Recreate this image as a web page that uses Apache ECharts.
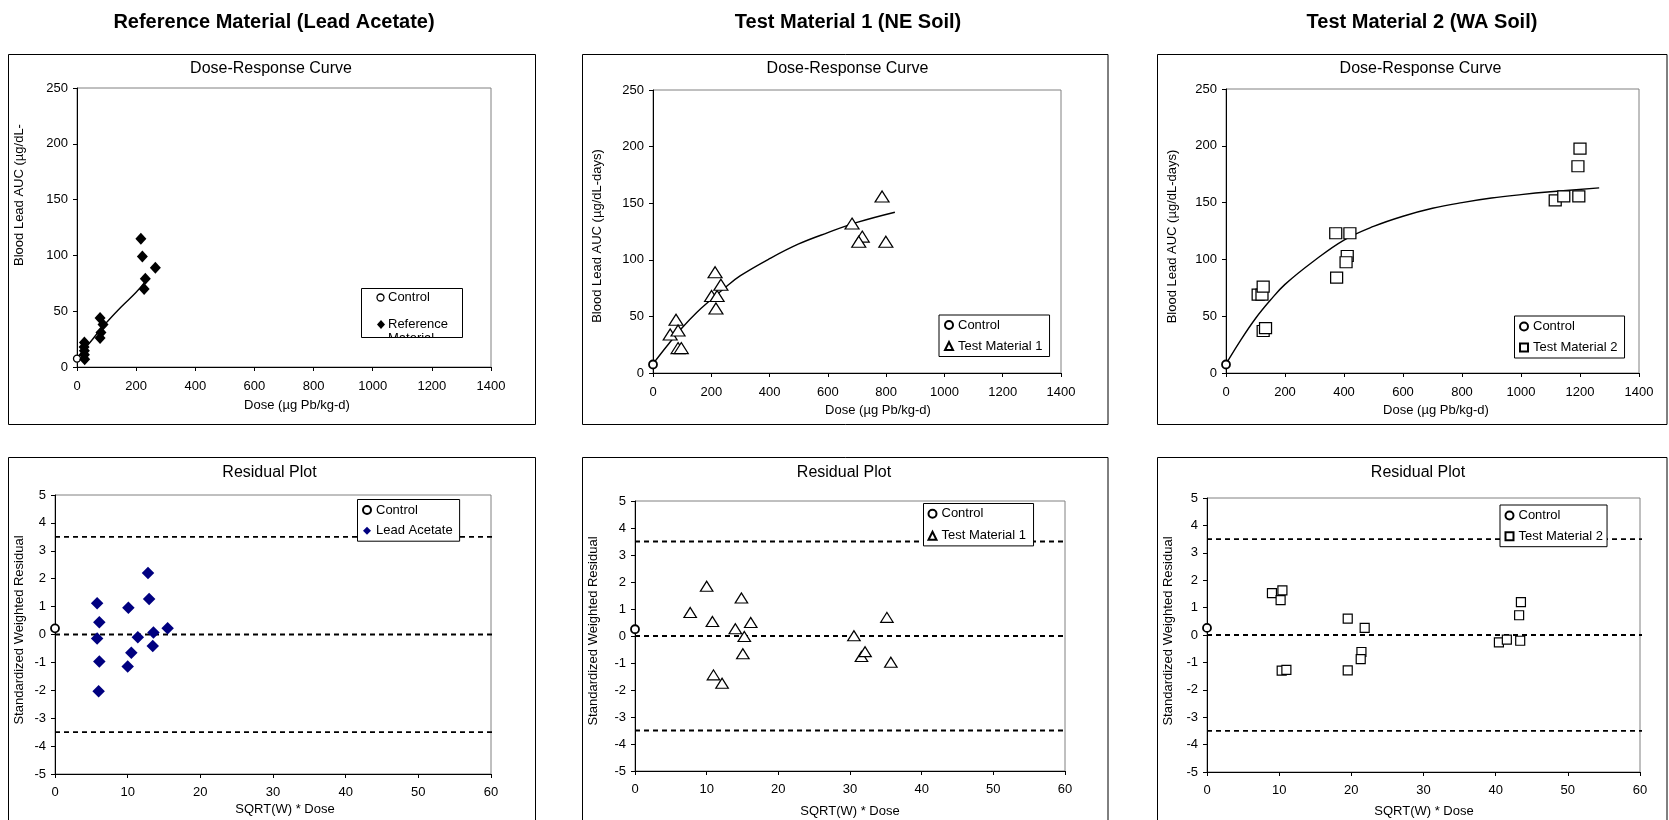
<!DOCTYPE html>
<html>
<head>
<meta charset="utf-8">
<title>Dose-Response and Residual Plots</title>
<script src="https://cdn.jsdelivr.net/npm/echarts@6.0.0/dist/echarts.min.js"></script>
<style>
html,body{margin:0;padding:0;background:#fff;}
#chart{width:1669px;height:820px;}
</style>
</head>
<body>
<div id="chart"></div>
<script>
const FONT = '"Liberation Sans", Arial, Helvetica, sans-serif';

// ---- axis ranges (tick labels come from these)
const doseAxis = {min: 0, max: 1400, interval: 200};
const aucAxis = {min: 0, max: 250, interval: 50};
const resXAxis = {min: 0, max: 60, interval: 10};
const resYAxis = {min: -5, max: 5, interval: 1};

// ---- text
const headers = ['Reference Material (Lead Acetate)', 'Test Material 1 (NE Soil)', 'Test Material 2 (WA Soil)'];
const topTitle = 'Dose-Response Curve';
const bottomTitle = 'Residual Plot';
const doseName = 'Dose (µg Pb/kg-d)';
const aucNameCut = 'Blood Lead AUC (µg/dL-';
const aucName = 'Blood Lead AUC (µg/dL-days)';
const resXName = 'SQRT(W) * Dose';
const resYName = 'Standardized Weighted Residual';

// ---- Panel 1: Reference material (lead acetate) dose-response
const controlDose = [0];
const refControlAuc = [7.5];
const refDose = [25, 24, 25, 25, 26, 78, 88, 81, 78, 216, 221, 231, 227, 265];
const refAuc  = [22, 18, 14.5, 11, 7, 44, 38, 31, 26, 115, 99, 79, 70, 89];
const refFitDose = [0, 25, 50, 80, 100, 150, 200, 232];
const refFitAuc  = [8, 16, 24, 34, 40, 54, 67, 77];

// ---- Panel 2: Test material 1 dose-response
const tm1ControlAuc = [7.5];
const tm1Dose = [59, 79, 86, 86, 97, 213, 201, 220, 216, 233, 683, 786, 718, 706, 799];
const tm1Auc  = [34, 47, 37.5, 22, 22, 89, 68, 68, 57, 78, 132, 156, 120.5, 116, 116];
const tm1FitDose = [0, 50, 100, 150, 200, 250, 300, 400, 500, 600, 700, 830];
const tm1FitAuc  = [8, 24.5, 40, 53.5, 65, 76, 86, 101, 114, 124, 133, 142];

// ---- Panel 3: Test material 2 dose-response
const tm2ControlAuc = [7.5];
const tm2Dose = [109, 122, 126, 126, 134, 372, 420, 411, 407, 375, 1116, 1145, 1196, 1193, 1200];
const tm2Auc  = [69, 69, 76, 37, 39.5, 123, 123, 103, 97.5, 84, 152, 155.5, 155.5, 182, 197.5];
const tm2FitDose = [0, 50, 100, 150, 200, 300, 400, 500, 600, 700, 800, 900, 1000, 1100, 1265];
const tm2FitAuc  = [8, 29, 48, 64, 78, 99, 117, 129, 138, 145, 150, 154, 157, 159.5, 163];

// ---- Residual plots
const controlResX = [0];
const refControlRes = [0.22];
const refResX = [5.8, 6.1, 5.8, 6.1, 6.0, 10.1, 10.0, 10.5, 11.4, 12.8, 12.95, 13.55, 13.45, 15.5];
const refResY = [1.12, 0.44, -0.14, -0.97, -2.03, 0.96, -1.15, -0.65, -0.10, 2.2, 1.27, 0.07, -0.41, 0.22];

const tm1ControlRes = [0.25];
const tm1ResX = [7.7, 10.0, 10.8, 10.95, 12.15, 14.0, 14.85, 15.25, 15.05, 16.15, 30.55, 31.6, 32.1, 35.15, 35.7];
const tm1ResY = [0.87, 1.84, 0.54, -1.44, -1.75, 0.27, 1.41, -0.02, -0.66, 0.50, 0.01, -0.76, -0.58, 0.69, -0.97];

const tm2ControlRes = [0.26];
const tm2ResX = [9.0, 10.45, 10.2, 10.35, 11.0, 19.5, 19.5, 21.85, 21.4, 21.3, 40.45, 41.55, 43.25, 43.5, 43.4];
const tm2ResY = [1.53, 1.63, 1.27, -1.30, -1.27, 0.60, -1.29, 0.26, -0.62, -0.88, -0.27, -0.17, 0.72, 1.20, -0.21];

// dashed reference lines on residual plots
const refLineX = [0, 60.7];
const refLineLevels = [3.5, 0, -3.5];

// ---------------------------------------------------------------
const pts = (xs, ys) => xs.map((x, i) => [x, ys[i]]);

const grids = [
  {left: 77,   top: 88,  width: 414, height: 279},
  {left: 653,  top: 90,  width: 408, height: 283},
  {left: 1226, top: 89,  width: 413, height: 284},
  {left: 55,   top: 495, width: 436, height: 279},
  {left: 635,  top: 501, width: 430, height: 270},
  {left: 1207, top: 498, width: 433, height: 274}
].map(g => Object.assign(g, {show: true, borderColor: '#808080', borderWidth: 1, backgroundColor: 'transparent'}));

function axis(i, rng, margin) {
  return {
    gridIndex: i, type: 'value', min: rng.min, max: rng.max, interval: rng.interval,
    axisLine: {show: true, onZero: false, lineStyle: {color: '#000', width: 1}},
    axisTick: {show: true, inside: false, length: 4, lineStyle: {color: '#000', width: 1}},
    axisLabel: {color: '#000', fontSize: 13, fontFamily: FONT, margin: margin, formatter: v => String(v)},
    splitLine: {show: false}
  };
}
const xAxes = [axis(0, doseAxis, 13), axis(1, doseAxis, 13), axis(2, doseAxis, 13),
               axis(3, resXAxis, 12), axis(4, resXAxis, 12), axis(5, resXAxis, 12)];
const yAxes = [axis(0, aucAxis, 9), axis(1, aucAxis, 9), axis(2, aucAxis, 9),
               axis(3, resYAxis, 9), axis(4, resYAxis, 9), axis(5, resYAxis, 9)];

const openStyle = (bw) => ({color: '#fff', borderColor: '#000', borderWidth: bw, opacity: 1});

function sc(name, i, data, symbol, size, itemStyle, z) {
  return {name, type: 'scatter', xAxisIndex: i, yAxisIndex: i, data, symbol, symbolSize: size,
          itemStyle: Object.assign({opacity: 1}, itemStyle), clip: false, z: z || 3, animation: false,
          emphasis: {disabled: true}};
}
function fit(i, data) {
  return {name: 'fit' + i, type: 'line', xAxisIndex: i, yAxisIndex: i, data, smooth: 0.4,
          symbol: 'none', lineStyle: {color: '#000', width: 1.4}, silent: true, z: 2, animation: false};
}
function refLines(i) {
  return refLineLevels.map((lv, k) => ({
    name: 'ref' + i + '_' + k, type: 'line', xAxisIndex: i, yAxisIndex: i,
    data: pts(refLineX, refLineX.map(() => lv)), symbol: 'none', clip: false, silent: true,
    lineStyle: {color: '#000', width: 1.8, type: [5, 4]}, z: 1, animation: false
  }));
}

const series = [
  fit(0, pts(refFitDose, refFitAuc)),
  sc('Control', 0, pts(controlDose, refControlAuc), 'circle', 7, openStyle(1.3)),
  sc('Reference Material', 0, pts(refDose, refAuc), 'diamond', [11, 12], {color: '#000'}),

  fit(1, pts(tm1FitDose, tm1FitAuc)),
  sc('Control', 1, pts(controlDose, tm1ControlAuc), 'circle', 8, openStyle(1.8)),
  sc('Test Material 1', 1, pts(tm1Dose, tm1Auc), 'triangle', [14, 11], openStyle(1.2)),

  fit(2, pts(tm2FitDose, tm2FitAuc)),
  sc('Control', 2, pts(controlDose, tm2ControlAuc), 'circle', 8, openStyle(1.8)),
  sc('Test Material 2', 2, pts(tm2Dose, tm2Auc), 'rect', [12, 11], openStyle(1.2)),

  ...refLines(3),
  sc('Control', 3, pts(controlResX, refControlRes), 'circle', 8, openStyle(1.8)),
  sc('Lead Acetate', 3, pts(refResX, refResY), 'diamond', [12.5, 12.5], {color: '#000080'}),

  ...refLines(4),
  sc('Control', 4, pts(controlResX, tm1ControlRes), 'circle', 8, openStyle(1.8)),
  sc('Test Material 1', 4, pts(tm1ResX, tm1ResY), 'triangle', [12.5, 10], openStyle(1.2)),

  ...refLines(5),
  sc('Control', 5, pts(controlResX, tm2ControlRes), 'circle', 8, openStyle(1.8)),
  sc('Test Material 2', 5, pts(tm2ResX, tm2ResY), 'rect', [9, 9], openStyle(1.2))
];

function leg(names, left, top, padding, gap) {
  return {
    data: names, left, top, orient: 'vertical', padding, itemGap: gap,
    itemWidth: 8, itemHeight: 8, borderColor: '#000', borderWidth: 1, borderRadius: 0,
    backgroundColor: '#fff', selectedMode: false,
    textStyle: {fontSize: 13, fontFamily: FONT, color: '#000', lineHeight: 13}
  };
}
const legends = [
  leg(['Control', 'Test Material 1'], 939, 315, [3.5, 7, 4, 5], 8),
  leg(['Control', 'Test Material 2'], 1514.5, 316, [4, 7, 4, 4.5], 8),
  leg(['Control', 'Lead Acetate'], 357.5, 499.5, [4, 7, 4, 4.5], 7.7),
  leg(['Control', 'Test Material 1'], 923.5, 503.5, [3.7, 7.5, 3.7, 4], 9),
  leg(['Control', 'Test Material 2'], 1500, 505, [4, 4, 4, 4.5], 7.7)
];

function txt(text, x, y, size, opts) {
  opts = opts || {};
  const al = opts.align || 'center';
  return {type: 'text', x, y, rotation: opts.rot || 0, z: opts.z || 50, silent: true,
    style: {text, font: (opts.bold ? 'bold ' : '') + size + 'px ' + FONT, fill: '#000',
            align: al, verticalAlign: 'middle', textAlign: al, textVerticalAlign: 'middle'}};
}
function box(x, y, w, h) {
  return {type: 'rect', shape: {x, y, width: w, height: h}, silent: true, z: 1,
          style: {fill: 'none', stroke: '#000', lineWidth: 1}};
}
const R = Math.PI / 2;
const graphics = [
  box(8.5, 54.5, 527, 370), box(582.5, 54.5, 525.5, 370), box(1157.5, 54.5, 509.5, 370),
  box(8.5, 457.5, 527, 380), box(582.5, 457.5, 525.5, 380), box(1157.5, 457.5, 509.5, 380),
  txt(headers[0], 274, 22, 20, {bold: true}),
  txt(headers[1], 848, 22, 20, {bold: true}),
  txt(headers[2], 1422, 22, 20, {bold: true}),
  txt(topTitle, 271, 68.7, 16), txt(topTitle, 847.5, 68.7, 16), txt(topTitle, 1420.5, 68.7, 16),
  txt(bottomTitle, 269.5, 472.5, 16), txt(bottomTitle, 844, 472.5, 16), txt(bottomTitle, 1418, 472.5, 16),
  txt(doseName, 297, 405, 13), txt(doseName, 878, 410, 13), txt(doseName, 1436, 410, 13),
  txt(resXName, 285, 809, 13), txt(resXName, 850, 811.5, 13), txt(resXName, 1424, 811, 13),
  txt(aucNameCut, 19, 195, 13, {rot: R}), txt(aucName, 597.5, 236, 13, {rot: R}), txt(aucName, 1172, 236.5, 13, {rot: R}),
  txt(resYName, 19, 630, 13, {rot: R}), txt(resYName, 593.5, 631, 13, {rot: R}), txt(resYName, 1168, 631, 13, {rot: R}),
  // legend of panel 1 (its second entry is clipped by the legend frame)
  {type: 'rect', shape: {x: 361.5, y: 288.5, width: 101, height: 49}, silent: true, z: 60, style: {fill: '#fff'}},
  {type: 'circle', shape: {cx: 380.5, cy: 297.5, r: 3.5}, silent: true, z: 61, style: {fill: '#fff', stroke: '#000', lineWidth: 1.3}},
  {type: 'polygon', shape: {points: [[381, 320], [385, 324.5], [381, 329], [377, 324.5]]}, silent: true, z: 61, style: {fill: '#000'}},
  txt('Control', 388, 297.5, 13, {align: 'left', z: 61}),
  txt('Reference', 388, 324.5, 13, {align: 'left', z: 61}),
  txt('Material', 388, 338.5, 13, {align: 'left', z: 61}),
  {type: 'rect', shape: {x: 355, y: 338, width: 115, height: 14}, silent: true, z: 62, style: {fill: '#fff'}},
  {type: 'rect', shape: {x: 361.5, y: 288.5, width: 101, height: 49}, silent: true, z: 63, style: {fill: 'none', stroke: '#000', lineWidth: 1}}
];

const chart = echarts.init(document.getElementById('chart'), null, {renderer: 'canvas'});
chart.setOption({
  animation: false,
  backgroundColor: '#fff',
  textStyle: {fontFamily: FONT},
  grid: grids,
  xAxis: xAxes,
  yAxis: yAxes,
  legend: legends,
  series: series,
  graphic: {elements: graphics}
});
</script>
</body>
</html>
